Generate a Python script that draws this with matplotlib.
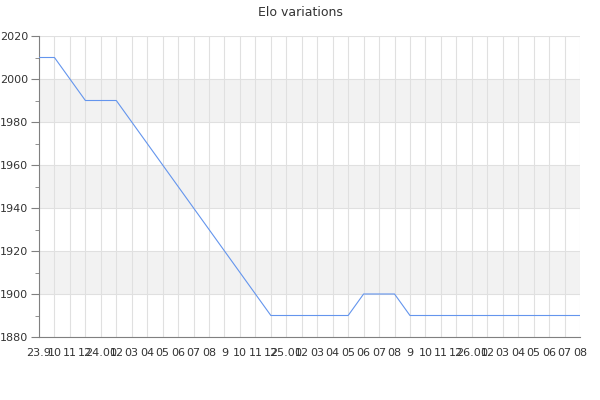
import matplotlib
matplotlib.use("Agg")
import matplotlib.pyplot as plt
from matplotlib.ticker import MultipleLocator

month_labels = ["23.9", "10", "11", "12",
                "24.01", "02", "03", "04", "05", "06", "07", "08", "9", "10", "11", "12",
                "25.01", "02", "03", "04", "05", "06", "07", "08", "9", "10", "11", "12",
                "26.01", "02", "03", "04", "05", "06", "07", "08"]
elo = [2010, 2010, 2000, 1990, 1990, 1990, 1980, 1970, 1960, 1950, 1940, 1930,
       1920, 1910, 1900, 1890, 1890, 1890, 1890, 1890, 1890, 1900, 1900, 1900,
       1890, 1890, 1890, 1890, 1890, 1890, 1890, 1890, 1890, 1890, 1890, 1890]
y_min, y_max, y_step = 1880, 2020, 20

fig = plt.figure(figsize=(6, 4), dpi=100)
ax = fig.add_axes([39 / 600, 1 - 337 / 400, 541 / 600, 301 / 400])

x = list(range(len(elo)))

# alternating bands
for lo in range(y_min, y_max, y_step):
    if (lo - y_min) // y_step % 2 == 1:
        ax.axhspan(lo, lo + y_step, color="#f2f2f2", zorder=0, lw=0)

ax.plot(x, elo, color="#6495ed", lw=0.8, zorder=3)

ax.set_xlim(0, len(elo) - 1)
ax.set_ylim(y_min, y_max)
ax.set_xticks(x)
ax.set_xticklabels(month_labels)
ax.yaxis.set_major_locator(MultipleLocator(y_step))
ax.yaxis.set_minor_locator(MultipleLocator(y_step / 2))

ax.grid(True, which="major", color="#e0e0e0", lw=0.8, zorder=1)
ax.set_axisbelow(True)

for side in ["top", "right"]:
    ax.spines[side].set_visible(False)
for side in ["left", "bottom"]:
    ax.spines[side].set_color("#808080")
    ax.spines[side].set_linewidth(0.8)

ax.tick_params(axis="y", which="major", length=6, color="#808080", labelsize=8,
               labelcolor="#333333", pad=2)
ax.tick_params(axis="y", which="minor", length=3, color="#808080")
ax.tick_params(axis="x", length=0, labelsize=8, labelcolor="#333333", pad=8)

fig.suptitle("Elo variations", y=0.985, fontsize=9, color="#333333")

fig.savefig("out.png", dpi=100)
plt.close(fig)
